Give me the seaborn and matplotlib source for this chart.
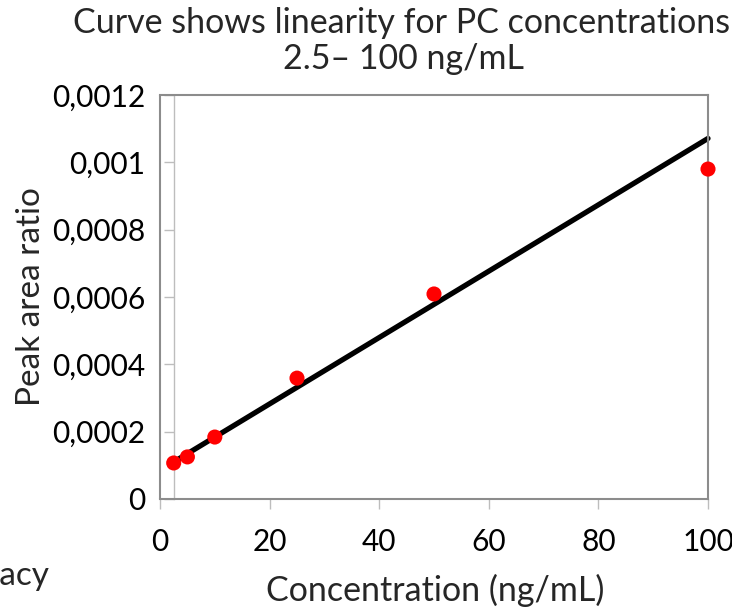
import matplotlib
matplotlib.use("Agg")
import matplotlib.pyplot as plt
import seaborn as sns

# Calibration standards (ng/mL) and measured peak area ratios
conc = [2.5, 5, 10, 25, 50, 100]
ratio = [0.000107, 0.000125, 0.000184, 0.000359, 0.000609, 0.00098]

# Fitted calibration line, drawn between its two end points
fit_conc = [2.5, 100]
fit_ratio = [0.000110, 0.001071]

x_ticks = [0, 20, 40, 60, 80, 100]
y_ticks = [0, 0.0002, 0.0004, 0.0006, 0.0008, 0.001, 0.0012]
y_tick_labels = ["0", "0,0002", "0,0004", "0,0006", "0,0008", "0,001", "0,0012"]

title_lines = ["Curve shows linearity for PC concentrations", "2.5\u2013 100 ng/mL"]
x_label = "Concentration (ng/mL)"
y_label = "Peak area ratio"
side_note = "Accuracy"

sns.set_theme(style="white")
plt.rcParams["font.family"] = ["Lato", "DejaVu Sans"]

W, H = 732, 611
fig = plt.figure(figsize=(W / 100, H / 100), dpi=100)
ax = fig.add_axes([160 / W, (H - 499) / H, 548 / W, 404 / H])

sns.lineplot(x=fit_conc, y=fit_ratio, color="black", linewidth=3.8, ax=ax,
             zorder=2, clip_on=False)
sns.scatterplot(x=conc, y=ratio, color="#ff0000", s=118, edgecolor="none",
                linewidth=0, ax=ax, zorder=3, clip_on=False)

ax.set_xlim(0, 100)
ax.set_ylim(0, 0.0012)
ax.set_xticks(x_ticks)
ax.set_yticks(y_ticks)
ax.set_yticklabels(y_tick_labels)

frame_col = "#8c8c8c"
axis_col = "#bdbdbd"
for side in ["top", "right", "bottom"]:
    ax.spines[side].set_color(frame_col)
    ax.spines[side].set_linewidth(1.5)
# vertical axis crosses at the first standard
ax.spines["left"].set_position(("data", 2.5))
ax.spines["left"].set_color(axis_col)
ax.spines["left"].set_linewidth(1.0)
ax.axvline(0, color=frame_col, linewidth=1.5, clip_on=False, zorder=1)

ax.tick_params(axis="x", direction="out", length=7.2, width=1.0, color=axis_col,
               labelsize=21.5, pad=14, labelcolor="black", bottom=True)
ax.tick_params(axis="y", direction="out", length=7.2, width=1.0, color=axis_col,
               labelsize=21.5, pad=13.5, labelcolor="black", left=True)
ax.set_xlabel("")
ax.set_ylabel("")

fig.text(402 / W, 1 - 33 / H, title_lines[0], ha="center", va="baseline", fontsize=24.5)
fig.text(404 / W, 1 - 69 / H, title_lines[1], ha="center", va="baseline", fontsize=24.5)
fig.text(435 / W, 1 - 601 / H, x_label, ha="center", va="baseline", fontsize=24.5)
fig.text(31 / W, 1 - 297 / H, y_label, ha="center", va="center", rotation=90, fontsize=24)
fig.text(50 / W, 1 - 585 / H, side_note, ha="right", va="baseline", fontsize=24)

fig.savefig("out.png", dpi=100)
